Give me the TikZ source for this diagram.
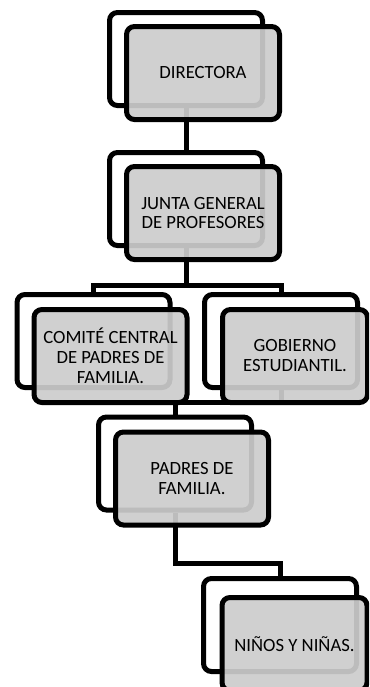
\documentclass[tikz,border=0pt]{standalone}
\usepackage{fontspec}
\setmainfont{Carlito}
\definecolor{boxgray}{HTML}{CCCCCC}

\begin{document}
\begin{tikzpicture}[x=0.75pt,y=-0.75pt,line width=3.75pt,
    back/.style={draw,rounded corners=6pt,fill=white,
      minimum width=114.75pt,minimum height=69.75pt},
    front/.style={back,fill=boxgray,fill opacity=0.92,text opacity=1,
      align=center,font=\fontsize{14}{15}\selectfont},
    narrow/.style={minimum width=108.75pt}]

    \useasboundingbox (0,0) rectangle (369,687);
    \clip (0,0) rectangle (369,687);

    % back frames
    \node[back] (dirB) at (186,59) {};
    \node[back] (juntaB) at (186,199) {};
    \node[back] (comB) at (93.5,341) {};
    \node[back] (gobB) at (281,341) {};
    \node[back] (padB) at (175,463.5) {};
    \node[back] (ninB) at (280,625) {};

    % links
    \draw (dirB.south) -- (juntaB.north);
    \draw (juntaB.south) -- ++(0,37) -| (comB.north);
    \draw (juntaB.south) -- ++(0,37) -| (gobB.north);
    \draw (gobB.south) -- ++(0,12) -| (padB.north);
    \draw (padB.south) -- ++(0,51) -| (ninB.north);

    % front boxes
    \node[front] (dir) at ([shift={(17,14)}]dirB) {DIRECTORA};
    \node[front] (junta) at ([shift={(17,14)}]juntaB) {JUNTA GENERAL\\DE PROFESORES};
    \node[front] (com) at ([shift={(17,15)}]comB) {COMITÉ CENTRAL\\DE PADRES DE\\FAMILIA.};
    \node[front,narrow] (gob) at ([shift={(14,15)}]gobB) {GOBIERNO\\ESTUDIANTIL.};
    \node[front] (pad) at ([shift={(17,15)}]padB) {PADRES DE\\FAMILIA.};
    \node[front,narrow] (nin) at ([shift={(14.5,19)}]ninB) {NIÑOS Y NIÑAS.};
  \end{tikzpicture}
\end{document}
